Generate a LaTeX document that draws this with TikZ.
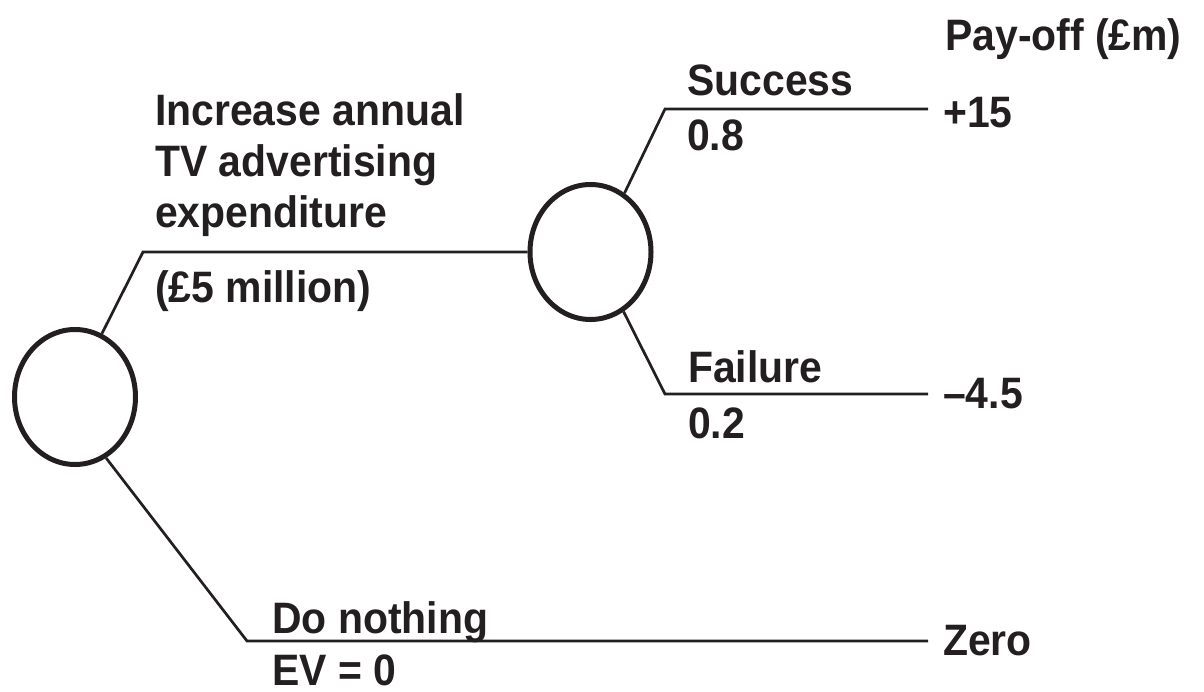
\documentclass[tikz,border=0pt]{standalone}
\usepackage{fontspec}
\setmainfont{Liberation Sans}[FakeStretch=0.93]
\usepackage{tikz}
\usetikzlibrary{shapes.geometric}
\definecolor{ink}{RGB}{35,31,32}
\tikzset{
	lbl/.style={font=\bfseries\fontsize{44}{51}\selectfont,text=ink,inner sep=0pt,anchor=base west},
	knot/.style={ellipse,draw=ink,line width=5pt,minimum width=121pt,minimum height=135pt,inner sep=0pt},
	branch/.style={draw=ink,line width=2.7pt}
}

\begin{document}
\begin{tikzpicture}[x=1pt,y=-1pt]
			\useasboundingbox (0,0) rectangle (1204,691);
			\node[knot] (dec) at(75,397) {};
			\node[knot] (chance) at(590.5,252) {};
			\coordinate (upk) at(143,252);
			\coordinate (dok) at(247,641);
			\coordinate (sk) at(665,109);
			\coordinate (fk) at(665,394);
			\coordinate (se) at(928,109);
			\coordinate (fe) at(928,394);
			\coordinate (de) at(928,641);
			\draw[branch] (dec.67)--(upk)--(chance.west);
			\draw[branch] (dec.-63)--(dok)--(de);
			\draw[branch] (chance.60)--(sk)--(se);
			\draw[branch] (chance.-61)--(fk)--(fe);
			\node[lbl,align=left] (inc) at(155,227) {Increase annual\\TV advertising\\expenditure};
			\node[lbl] (cost) at(155,302) {(£5 million)};
			\node[lbl] (succ) at(687,95) {Success};
			\node[lbl] (ps) at(687,150) {0.8};
			\node[lbl] (fail) at(688,382) {Failure};
			\node[lbl] (pf) at(688,438) {0.2};
			\node[lbl] (nil) at(272,633) {Do nothing};
			\node[lbl] (ev) at(272,685) {EV = 0};
			\node[lbl] (head) at(945,50) {Pay-off (£m)};
			\node[lbl] (vs) at(943,127) {+15};
			\node[lbl] (vf) at(943,408) {–4.5};
			\node[lbl] (vd) at(943,655) {Zero};
		\end{tikzpicture}
\end{document}
